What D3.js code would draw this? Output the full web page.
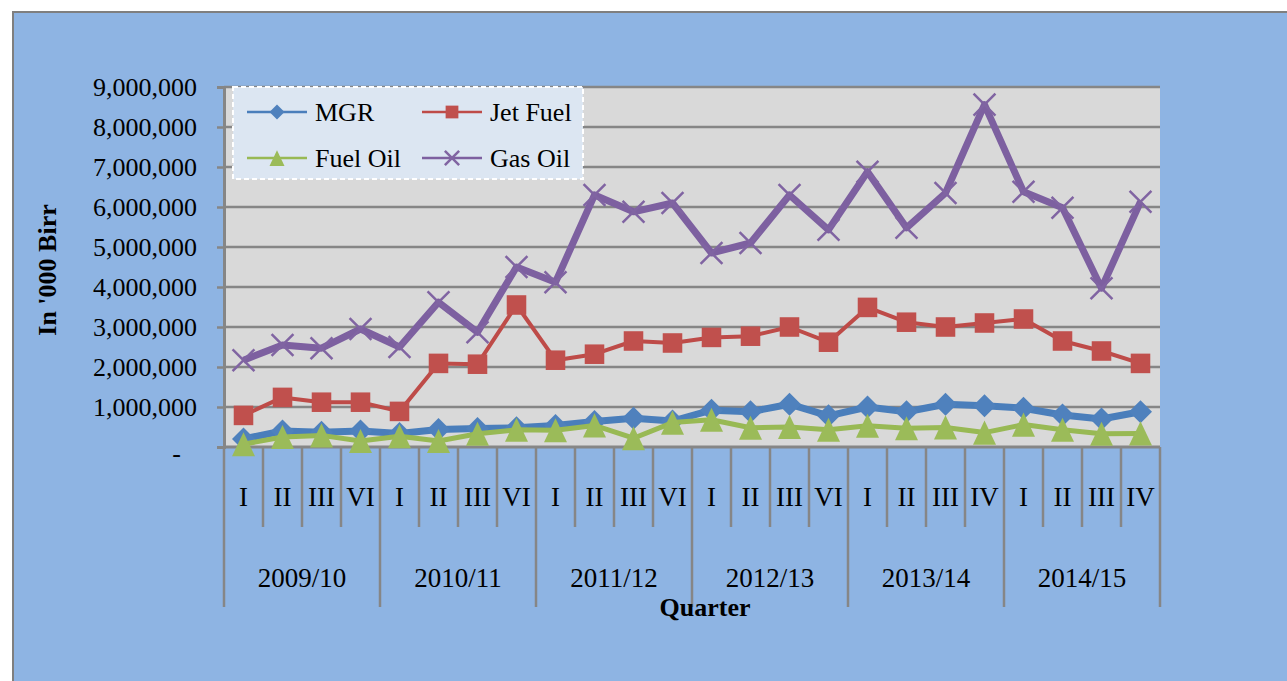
<!DOCTYPE html>
<html>
<head>
<meta charset="utf-8">
<script src="https://cdn.jsdelivr.net/npm/d3@7"></script>
<style>
  body { margin: 0; background: #fff; }
  svg text { font-family: "Liberation Serif", "Times New Roman", serif; fill: #000; }
</style>
</head>
<body>
<div id="chart"></div>
<script>
// quarters and fiscal years (as written on the original chart)
var quarters = ['I','II','III','VI','I','II','III','VI','I','II','III','VI',
                'I','II','III','VI','I','II','III','IV','I','II','III','IV'];
var years = ['2009/10','2010/11','2011/12','2012/13','2013/14','2014/15'];

// values in '000 Birr
var mgr = [200000, 400000, 370000, 400000, 340000, 440000, 460000, 480000, 540000, 640000, 720000, 650000,
           920000, 880000, 1070000, 780000, 1000000, 880000, 1070000, 1030000, 970000, 800000, 700000, 880000];
var jetFuel = [790000, 1240000, 1120000, 1120000, 890000, 2090000, 2070000, 3550000, 2170000, 2320000, 2650000, 2600000,
               2740000, 2770000, 3000000, 2620000, 3490000, 3120000, 3000000, 3100000, 3200000, 2650000, 2400000, 2090000];
var fuelOil = [70000, 250000, 290000, 150000, 270000, 150000, 330000, 430000, 420000, 540000, 220000, 610000,
               680000, 480000, 500000, 430000, 530000, 470000, 490000, 360000, 560000, 430000, 330000, 340000];
var gasOil = [2170000, 2550000, 2470000, 2950000, 2500000, 3620000, 2870000, 4500000, 4120000, 6300000, 5880000, 6100000,
              4850000, 5100000, 6300000, 5430000, 6880000, 5480000, 6350000, 8560000, 6380000, 5980000, 3970000, 6130000];

var series = [
  {name: 'MGR', values: mgr, line: '#4A7EBB', fill: '#4F81BD', width: 7, marker: 'diamond'},
  {name: 'Jet Fuel', values: jetFuel, line: '#BE4B48', fill: '#C0504D', width: 4, marker: 'square'},
  {name: 'Fuel Oil', values: fuelOil, line: '#98B954', fill: '#9BBB59', width: 5, marker: 'triangle'},
  {name: 'Gas Oil', values: gasOil, line: '#7D60A0', fill: '#8064A2', width: 7, marker: 'x'}
];

var W = 1287, H = 681;
var plot = {left: 224, right: 1160, top: 87, bottom: 447};
var gridColor = '#868686';

var svg = d3.select('#chart').append('svg')
  .attr('width', W).attr('height', H);

// chart area
svg.append('rect')
  .attr('x', 13).attr('y', 12)
  .attr('width', W + 10).attr('height', H + 10)
  .attr('fill', '#8EB4E3')
  .attr('stroke', '#7f7f7f').attr('stroke-width', 2);

// plot area
svg.append('rect')
  .attr('x', plot.left).attr('y', plot.top)
  .attr('width', plot.right - plot.left).attr('height', plot.bottom - plot.top)
  .attr('fill', '#D9D9D9');

var x = d3.scaleBand()
  .domain(d3.range(quarters.length))
  .range([plot.left, plot.right]);
var cx = function(i) { return x(i) + x.bandwidth() / 2; };

var y = d3.scaleLinear()
  .domain([0, 9000000])
  .range([plot.bottom, plot.top]);

var yTicks = d3.range(0, 9000001, 1000000);

// gridlines
svg.append('g').selectAll('line')
  .data(yTicks.filter(function(d) { return d > 0; }))
  .enter().append('line')
  .attr('x1', plot.left).attr('x2', plot.right)
  .attr('y1', function(d) { return y(d); })
  .attr('y2', function(d) { return y(d); })
  .attr('stroke', gridColor).attr('stroke-width', 2.5);

// y axis
var yAxis = svg.append('g')
  .attr('transform', 'translate(' + plot.left + ',0)')
  .call(d3.axisLeft(y).tickValues(yTicks).tickSize(7).tickPadding(20)
    .tickFormat(function(d) { return d === 0 ? '-' : d3.format(',')(d); }));
yAxis.select('.domain').attr('stroke', gridColor).attr('stroke-width', 3);
yAxis.selectAll('.tick line').attr('stroke', gridColor).attr('stroke-width', 2.5);
yAxis.selectAll('.tick text')
  .attr('font-size', 26)
  .style('font-family', '"Liberation Serif", serif')
  .attr('fill', '#000');
yAxis.selectAll('.tick').filter(function(d) { return d === 0; }).select('text')
  .attr('x', -43).attr('dy', '0.55em');

// x axis: quarter row and year row
var xg = svg.append('g');
xg.append('line')
  .attr('x1', plot.left).attr('x2', plot.right)
  .attr('y1', plot.bottom).attr('y2', plot.bottom)
  .attr('stroke', gridColor).attr('stroke-width', 3);

var bounds = d3.range(quarters.length + 1);
xg.selectAll('.qsep')
  .data(bounds)
  .enter().append('line')
  .attr('class', 'qsep')
  .attr('x1', function(d) { return d < quarters.length ? x(d) : plot.right; })
  .attr('x2', function(d) { return d < quarters.length ? x(d) : plot.right; })
  .attr('y1', plot.bottom)
  .attr('y2', function(d) { return d % 4 === 0 ? 607 : 527; })
  .attr('stroke', gridColor).attr('stroke-width', 2.5);

xg.selectAll('.qlabel')
  .data(quarters)
  .enter().append('text')
  .attr('class', 'qlabel')
  .attr('x', function(d, i) { return cx(i); })
  .attr('y', 506)
  .attr('text-anchor', 'middle')
  .attr('font-size', 27)
  .text(function(d) { return d; });

xg.selectAll('.ylabel')
  .data(years)
  .enter().append('text')
  .attr('class', 'ylabel')
  .attr('x', function(d, i) { return (x(i * 4) + (i * 4 + 4 < quarters.length ? x(i * 4 + 4) : plot.right)) / 2; })
  .attr('y', 587)
  .attr('text-anchor', 'middle')
  .attr('font-size', 27)
  .text(function(d) { return d; });

// axis titles
svg.append('text')
  .attr('x', 705).attr('y', 616)
  .attr('text-anchor', 'middle')
  .attr('font-size', 26).attr('font-weight', 'bold')
  .text('Quarter');

svg.append('text')
  .attr('transform', 'translate(56,270) rotate(-90)')
  .attr('text-anchor', 'middle')
  .attr('font-size', 26).attr('font-weight', 'bold')
  .text("In '000 Birr");

// markers
function drawMarker(g, type, size, fill) {
  var h = size / 2;
  if (type === 'diamond') {
    g.append('path').attr('d', 'M0,' + (-h) + 'L' + h + ',0L0,' + h + 'L' + (-h) + ',0Z').attr('fill', fill);
  } else if (type === 'square') {
    var s = size * 0.85;
    g.append('rect').attr('x', -s / 2).attr('y', -s / 2).attr('width', s).attr('height', s).attr('fill', fill);
  } else if (type === 'triangle') {
    g.append('path').attr('d', 'M0,' + (-h * 1.05) + 'L' + h + ',' + (h * 1.05) + 'L' + (-h) + ',' + (h * 1.05) + 'Z').attr('fill', fill);
  } else {
    var k = h * 0.95;
    g.append('path').attr('d', 'M' + (-k) + ',' + (-k) + 'L' + k + ',' + k + 'M' + (-k) + ',' + k + 'L' + k + ',' + (-k))
      .attr('stroke', fill).attr('stroke-width', 2.5).attr('fill', 'none');
  }
}

var line = d3.line()
  .x(function(d, i) { return cx(i); })
  .y(function(d) { return y(d); });

series.forEach(function(s) {
  var g = svg.append('g');
  g.append('path')
    .attr('d', line(s.values))
    .attr('fill', 'none')
    .attr('stroke', s.line)
    .attr('stroke-width', s.width)
    .attr('stroke-linejoin', 'round');
  s.values.forEach(function(v, i) {
    var m = g.append('g').attr('transform', 'translate(' + cx(i) + ',' + y(v) + ')');
    drawMarker(m, s.marker, 23, s.fill);
  });
});

// legend
var legend = svg.append('g');
legend.append('rect')
  .attr('x', 233).attr('y', 87)
  .attr('width', 350).attr('height', 92)
  .attr('fill', '#DCE6F2')
  .attr('stroke', '#fff').attr('stroke-width', 2)
  .attr('stroke-dasharray', '5,3');

var legendPos = [[247, 112], [422, 112], [247, 158], [422, 158]];
series.forEach(function(s, i) {
  var p = legendPos[i];
  var lg = legend.append('g').attr('transform', 'translate(' + p[0] + ',' + p[1] + ')');
  lg.append('line').attr('x1', 0).attr('x2', 60).attr('stroke', s.line).attr('stroke-width', 2.5);
  var m = lg.append('g').attr('transform', 'translate(30,0)');
  drawMarker(m, s.marker, 15, s.fill);
  lg.append('text')
    .attr('x', 68).attr('y', 0).attr('dy', '0.35em')
    .attr('font-size', 26)
    .text(s.name);
});
</script>
</body>
</html>
